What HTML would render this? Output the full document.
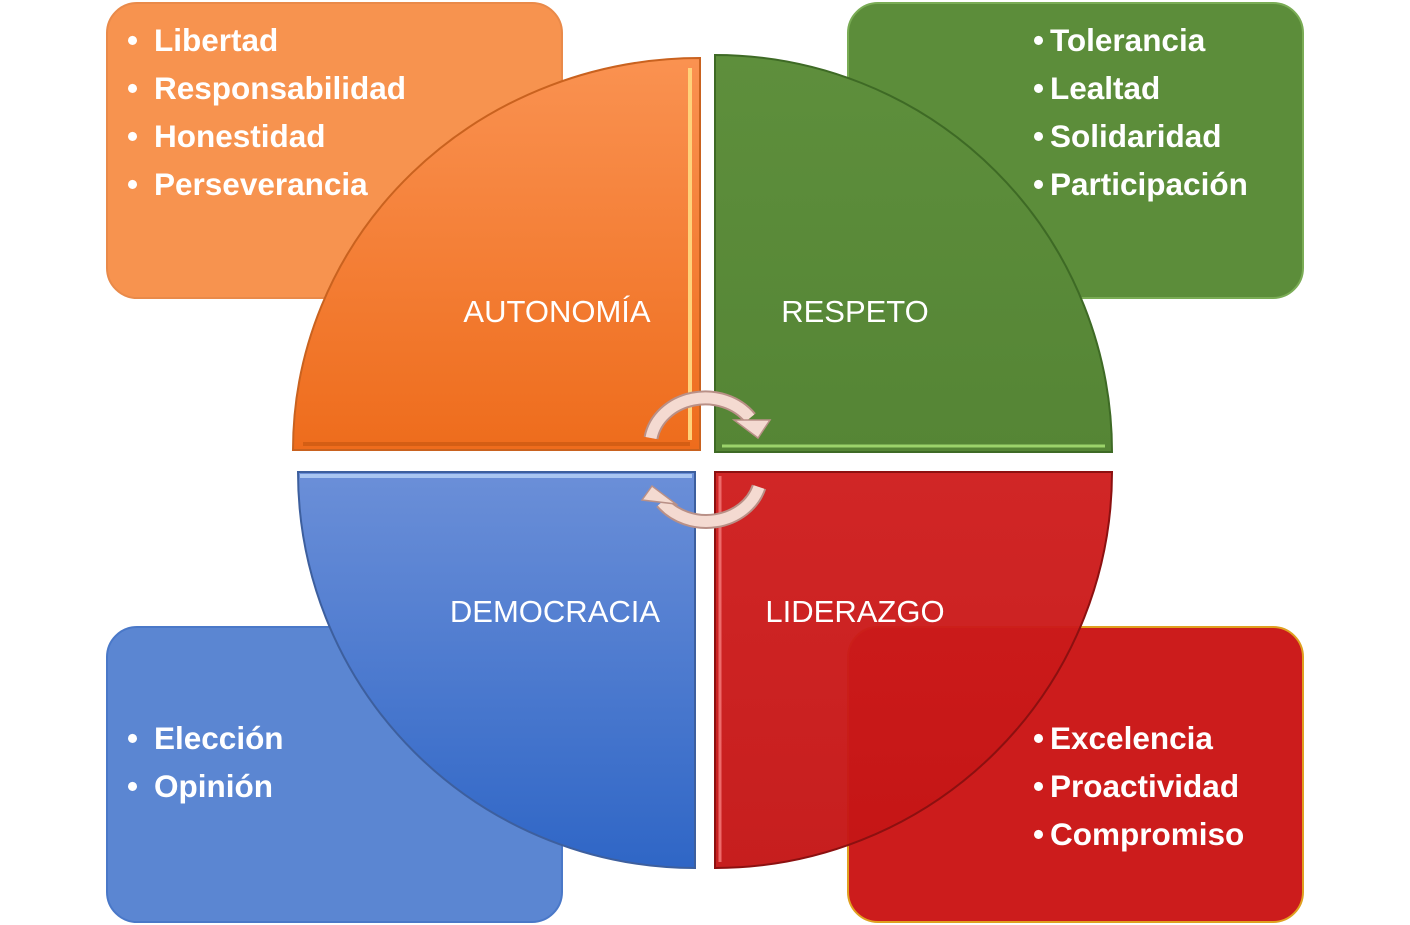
<!DOCTYPE html>
<html><head><meta charset="utf-8"><style>
html,body{margin:0;padding:0;background:#fff;}
svg{display:block;}
text{font-family:"Liberation Sans",Arial,sans-serif;fill:#fff;}
.b{font-weight:bold;font-size:31.5px;}
.l{font-size:31px;}
</style></head><body>
<svg width="1410" height="925" viewBox="0 0 1410 925" xmlns="http://www.w3.org/2000/svg">
<defs>
<linearGradient id="go" x1="0" y1="0" x2="0" y2="1"><stop offset="0" stop-color="#fa9251"/><stop offset="1" stop-color="#ee6c1c"/></linearGradient>
<linearGradient id="gg" x1="0" y1="0" x2="0" y2="1"><stop offset="0" stop-color="#5e8f3c"/><stop offset="1" stop-color="#558535"/></linearGradient>
<linearGradient id="gb" x1="0" y1="0" x2="0" y2="1"><stop offset="0" stop-color="#6b8fd8"/><stop offset="1" stop-color="#2f66c6"/></linearGradient>
<linearGradient id="gr" x1="0" y1="0" x2="0" y2="1"><stop offset="0" stop-color="#cf1d1d"/><stop offset="1" stop-color="#c41515"/></linearGradient>
</defs>
<rect x="107" y="3" width="455" height="295" rx="30" fill="#f7934f" stroke="#e98a4a" stroke-width="2"/>
<rect x="848" y="3" width="455" height="295" rx="30" fill="#5c8d3a" stroke="#7aac55" stroke-width="2"/>
<rect x="107" y="627" width="455" height="295" rx="30" fill="#5b86d2" stroke="#4a78c8" stroke-width="2"/>
<rect x="848" y="627" width="455" height="295" rx="30" fill="#cc1c1c" stroke="#e0a020" stroke-width="2"/>
<path d="M700 450 L293 450 A407 392 0 0 1 700 58 Z" fill="url(#go)" stroke="#c9621f" stroke-width="2"/>
<path d="M715 452 L715 55 A397 397 0 0 1 1112 452 Z" fill="url(#gg)" stroke="#3e6a25" stroke-width="2"/>
<path d="M695 472 L298 472 A397 396 0 0 0 695 868 Z" fill="url(#gb)" stroke="#3d5f9e" stroke-width="2"/>
<path d="M715 472 L1112 472 A397 396 0 0 1 715 868 Z" fill="url(#gr)" fill-opacity="0.96" stroke="#8c1010" stroke-width="2"/>
<path d="M690 68 L690 440" stroke="#ffd27a" stroke-width="4"/>
<path d="M303 444 L690 444" stroke="#d45e14" stroke-width="4"/>
<path d="M722 446 L1105 446" stroke="#9bd36a" stroke-width="3"/>
<path d="M300 476 L692 476" stroke="#a9c6f2" stroke-width="4"/>
<path d="M720 476 L720 862" stroke="#ec6a6a" stroke-width="3"/>
<g fill="none">
<path d="M651 438 A55 48 0 0 1 750 418" stroke="#b99087" stroke-width="15"/>
<path d="M651 438 A55 48 0 0 1 750 418" stroke="#f4dad1" stroke-width="11"/>
<path d="M759 487 A55 48 0 0 1 662 502" stroke="#b99087" stroke-width="15"/>
<path d="M759 487 A55 48 0 0 1 662 502" stroke="#f4dad1" stroke-width="11"/>
</g>
<polygon points="734,420 770,420 758,438" fill="#f4dad1" stroke="#b99087" stroke-width="1.5"/>
<polygon points="642,500 652,486 676,504" fill="#f4dad1" stroke="#b99087" stroke-width="1.5"/>
<text class="l" x="557" y="322" text-anchor="middle">AUTONOMÍA</text>
<text class="l" x="855" y="322" text-anchor="middle">RESPETO</text>
<text class="l" x="555" y="622" text-anchor="middle">DEMOCRACIA</text>
<text class="l" x="855" y="622" text-anchor="middle">LIDERAZGO</text>
<g class="b">
<text class="b" x="127" y="51">•</text><text class="b" x="154" y="51">Libertad</text>
<text class="b" x="127" y="99">•</text><text class="b" x="154" y="99">Responsabilidad</text>
<text class="b" x="127" y="147">•</text><text class="b" x="154" y="147">Honestidad</text>
<text class="b" x="127" y="195">•</text><text class="b" x="154" y="195">Perseverancia</text>
<text class="b" x="1033" y="51">•</text><text class="b" x="1050" y="51">Tolerancia</text>
<text class="b" x="1033" y="99">•</text><text class="b" x="1050" y="99">Lealtad</text>
<text class="b" x="1033" y="147">•</text><text class="b" x="1050" y="147">Solidaridad</text>
<text class="b" x="1033" y="195">•</text><text class="b" x="1050" y="195">Participación</text>
<text class="b" x="127" y="749">•</text><text class="b" x="154" y="749">Elección</text>
<text class="b" x="127" y="797">•</text><text class="b" x="154" y="797">Opinión</text>
<text class="b" x="1033" y="749">•</text><text class="b" x="1050" y="749">Excelencia</text>
<text class="b" x="1033" y="797">•</text><text class="b" x="1050" y="797">Proactividad</text>
<text class="b" x="1033" y="845">•</text><text class="b" x="1050" y="845">Compromiso</text>
</g>
</svg>
</body></html>
